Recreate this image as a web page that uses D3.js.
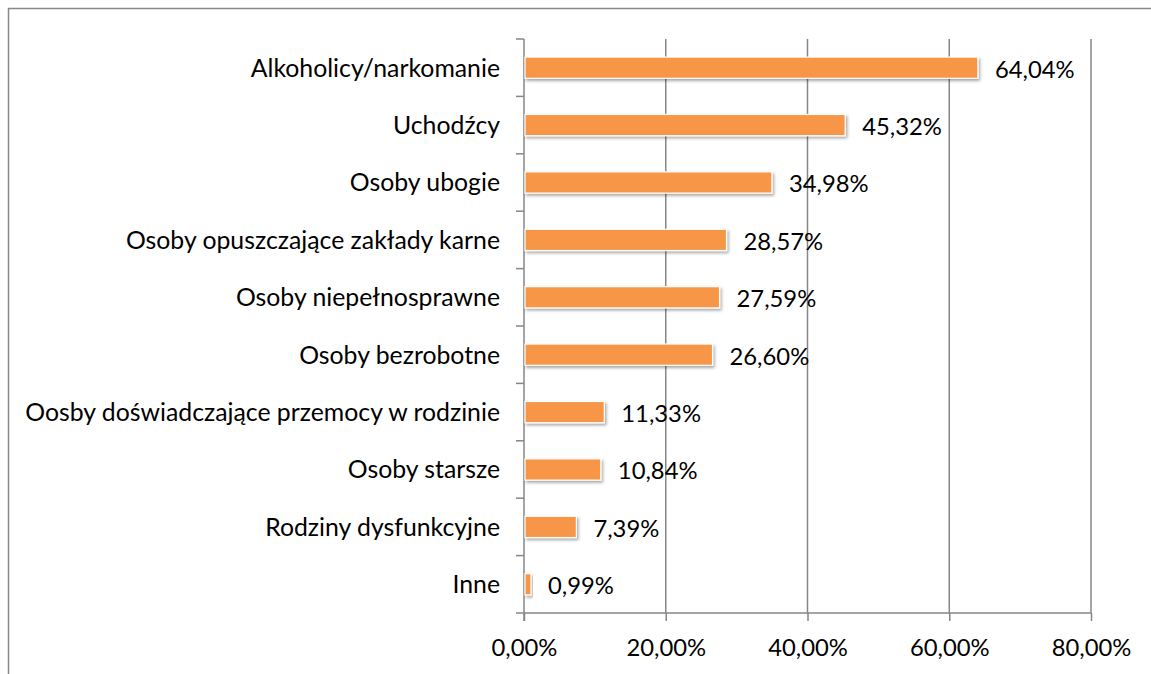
<!DOCTYPE html>
<html>
<head>
<meta charset="utf-8">
<script src="https://cdn.jsdelivr.net/npm/d3@7"></script>
<style>
  body { margin: 0; background: #fff; }
  svg text { font-family: Lato, "Open Sans", sans-serif; fill: #000; }
</style>
</head>
<body>
<svg id="chart" width="1151" height="674"></svg>
<script>
const categories = [
  'Alkoholicy/narkomanie',
  'Uchodźcy',
  'Osoby ubogie',
  'Osoby opuszczające zakłady karne',
  'Osoby niepełnosprawne',
  'Osoby bezrobotne',
  'Oosby doświadczające przemocy w rodzinie',
  'Osoby starsze',
  'Rodziny dysfunkcyjne',
  'Inne'
];
const values = [64.04, 45.32, 34.98, 28.57, 27.59, 26.60, 11.33, 10.84, 7.39, 0.99];
const xTicks = [0, 20, 40, 60, 80];

function fmt(v) {
  return v.toFixed(2).replace('.', ',') + '%';
}

function drawChart() {
  const svg = d3.select('svg#chart');
  const left = 524, right = 1091, top = 39, bottom = 613;
  const catSize = 24.8, numSize = 23.8;

  // outer frame
  svg.append('rect')
    .attr('x', 8.5).attr('y', 8.5)
    .attr('width', 1160).attr('height', 680)
    .attr('fill', 'none').attr('stroke', '#888').attr('stroke-width', 1.5);

  const x = d3.scaleLinear().domain([0, 80]).range([left, right]);
  const y = d3.scaleBand().domain(categories).range([top, bottom]).paddingInner(0.63).paddingOuter(0.315);

  const defs = svg.append('defs');
  const f = defs.append('filter').attr('id', 'shadow').attr('x', '-10%').attr('y', '-30%').attr('width', '130%').attr('height', '180%');
  f.append('feDropShadow').attr('dx', 1.5).attr('dy', 2).attr('stdDeviation', 1.5).attr('flood-color', '#000').attr('flood-opacity', 0.35);

  // vertical gridlines
  svg.append('g').selectAll('line').data(xTicks.slice(1)).enter()
    .append('line')
    .attr('x1', (d) => x(d)).attr('x2', (d) => x(d))
    .attr('y1', top).attr('y2', bottom)
    .attr('stroke', '#868686').attr('stroke-width', 1.5);

  // x axis
  const xAxis = svg.append('g').attr('transform', `translate(0,${bottom})`)
    .call(d3.axisBottom(x).tickValues(xTicks).tickSize(8).tickFormat(fmt));
  xAxis.select('.domain').attr('stroke', '#868686').attr('stroke-width', 1.5).attr('d', `M${left},0H${right}`);
  xAxis.selectAll('.tick line').attr('stroke', '#868686').attr('stroke-width', 1.5);
  xAxis.selectAll('.tick text').attr('font-size', numSize).attr('dy', 0).attr('y', 43)
    .style('font-family', 'Lato, "Open Sans", sans-serif');

  // y axis
  const yAxis = svg.append('g');
  yAxis.append('line')
    .attr('x1', left).attr('x2', left).attr('y1', top).attr('y2', bottom + 8)
    .attr('stroke', '#868686').attr('stroke-width', 1.5);
  const step = (bottom - top) / categories.length;
  yAxis.selectAll('line.tk').data(d3.range(categories.length + 1)).enter()
    .append('line').attr('class', 'tk')
    .attr('x1', left - 8).attr('x2', left)
    .attr('y1', (i) => top + i * step).attr('y2', (i) => top + i * step)
    .attr('stroke', '#868686').attr('stroke-width', 1.5);
  yAxis.selectAll('text').data(categories).enter()
    .append('text')
    .attr('x', 500)
    .attr('y', (d) => y(d) + y.bandwidth() / 2)
    .attr('dy', '0.36em')
    .attr('text-anchor', 'end')
    .attr('font-size', catSize)
    .text((d) => d);

  // bars
  svg.append('g').selectAll('rect').data(values).enter()
    .append('rect')
    .attr('x', x(0) + 1)
    .attr('y', (d, i) => y(categories[i]))
    .attr('width', (d) => Math.max(x(d) - x(0) - 1, 1))
    .attr('height', y.bandwidth())
    .attr('fill', '#F79646')
    .attr('stroke', '#fff').attr('stroke-width', 1.2)
    .attr('filter', 'url(#shadow)');

  // value labels
  svg.append('g').selectAll('text').data(values).enter()
    .append('text')
    .attr('x', (d) => x(d) + 17)
    .attr('y', (d, i) => y(categories[i]) + y.bandwidth() / 2)
    .attr('dy', '0.42em')
    .attr('font-size', numSize)
    .text((d) => fmt(d));
}

window.addEventListener('load', drawChart);
</script>
</body>
</html>
